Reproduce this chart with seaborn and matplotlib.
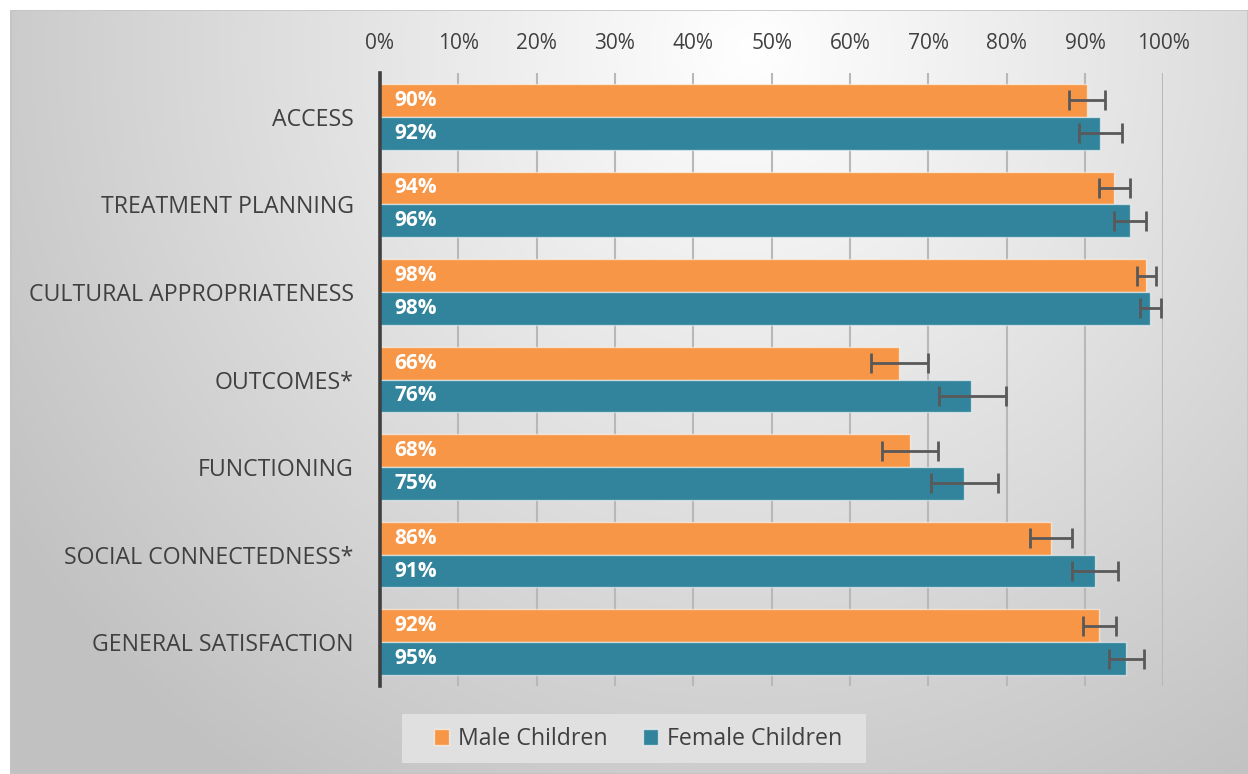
import numpy as np
import pandas as pd
import matplotlib
matplotlib.use("Agg")
import matplotlib.pyplot as plt
import seaborn as sns
from matplotlib.patches import Rectangle, Patch

categories = ["ACCESS", "TREATMENT PLANNING", "CULTURAL APPROPRIATENESS",
              "OUTCOMES*", "FUNCTIONING", "SOCIAL CONNECTEDNESS*",
              "GENERAL SATISFACTION"]
series = ["Male Children", "Female Children"]
male = [90.2, 93.7, 97.8, 66.2, 67.6, 85.6, 91.8]
female = [91.9, 95.7, 98.3, 75.5, 74.5, 91.3, 95.2]
male_labels = ["90%", "94%", "98%", "66%", "68%", "86%", "92%"]
female_labels = ["92%", "96%", "98%", "76%", "75%", "91%", "95%"]
male_lo = [88.0, 91.8, 96.6, 62.7, 64.1, 83.0, 89.7]
male_hi = [92.5, 95.7, 99.1, 69.9, 71.3, 88.4, 94.0]
female_lo = [89.2, 93.7, 97.0, 71.4, 70.3, 88.4, 93.1]
female_hi = [94.7, 97.8, 99.7, 79.9, 78.9, 94.2, 97.5]
xticks = [0, 10, 20, 30, 40, 50, 60, 70, 80, 90, 100]
xtick_labels = [f"{t}%" for t in xticks]

colors = {"Male Children": "#F79646", "Female Children": "#31849B"}
text_color = "#404040"
FONT = ["Open Sans", "DejaVu Sans"]

df = pd.DataFrame({
    "category": categories * 2,
    "series": [series[0]] * len(categories) + [series[1]] * len(categories),
    "value": male + female,
})

sns.set_theme(style="white")
plt.rcParams["font.family"] = FONT

W, H = 1248, 774
fig = plt.figure(figsize=(W / 100, H / 100), dpi=100)
fig.patch.set_facecolor("white")

# gradient background panel
bg = fig.add_axes([10 / W, 0, 1 - 10 / W, 1 - 10 / H], zorder=0)
bw, bh = W - 10, H - 10
yy, xx = np.mgrid[0:bh, 0:bw]
cx, cy = 740, 40
r = np.sqrt((xx - cx) ** 2 + (yy - cy) ** 2)
v = 1.0 - 0.24 * np.clip(r / 880.0, 0, 1)
bg.imshow(np.dstack([v, v, v]), aspect="auto", interpolation="bilinear")
bg.set_axis_off()
bg.add_patch(Rectangle((0, 0), bw - 1, bh, fill=False, edgecolor="#c4c4c4", lw=1.2))

# legend background
fig.patches.append(Rectangle((402 / W, 11 / H), (866 - 402) / W, (60 - 11) / H,
                             transform=fig.transFigure, facecolor="#e0e0e0",
                             edgecolor="none", zorder=1))

ax = fig.add_axes([380 / W, 1 - 686 / H, (1163.3 - 380) / W, (686 - 73) / H], zorder=2)
ax.patch.set_alpha(0)
sns.barplot(data=df, x="value", y="category", hue="series", orient="h",
            palette=colors, width=0.75, errorbar=None, ax=ax,
            edgecolor=(1, 1, 1, 0.55), linewidth=1.0, saturation=1, zorder=2,
            legend=False)

lows = [male_lo, female_lo]
highs = [male_hi, female_hi]
labels = [male_labels, female_labels]
for k, cont in enumerate(ax.containers[:2]):
    ys = [p.get_y() + p.get_height() / 2 for p in cont.patches]
    lo = np.array(lows[k]); hi = np.array(highs[k])
    mid = (lo + hi) / 2
    ax.errorbar(mid, ys, xerr=(hi - lo) / 2, fmt="none", ecolor="#595959",
                elinewidth=2, capsize=7.5, capthick=2, zorder=4)
    for y, t in zip(ys, labels[k]):
        ax.annotate(t, xy=(0, y), xytext=(10.5, 0), textcoords="offset points",
                    ha="left", va="center", color="white", fontsize=15,
                    fontweight="bold", zorder=5)

ax.set_xlim(0, 100)
ax.set_ylim(len(categories) - 0.5, -0.5)
ax.set_xticks(xticks)
ax.set_xticklabels(xtick_labels)
ax.xaxis.tick_top()
ax.tick_params(axis="x", length=0, pad=14, labelsize=15, labelcolor=text_color)
ax.tick_params(axis="y", length=0, pad=19, labelsize=16.7, labelcolor=text_color)
ax.set_xlabel("")
ax.set_ylabel("")
ax.grid(axis="x", color="#b8b8b8", lw=1.5, zorder=0)
ax.set_axisbelow(True)
for s in ["top", "right", "bottom"]:
    ax.spines[s].set_visible(False)
ax.spines["left"].set_color("#404040")
ax.spines["left"].set_linewidth(2.6)
ax.spines["left"].set_zorder(5)

handles = [Patch(facecolor=colors[s], edgecolor=(1, 1, 1, 0.6), label=s) for s in series]
leg = fig.legend(handles=handles, loc="center", bbox_to_anchor=(638 / W, 1 - 739 / H),
                 ncol=2, frameon=False, fontsize=16.7, handlelength=0.65,
                 handleheight=0.65, handletextpad=0.4, columnspacing=1.5)
for t in leg.get_texts():
    t.set_color(text_color)

fig.savefig("out.png", dpi=100)
